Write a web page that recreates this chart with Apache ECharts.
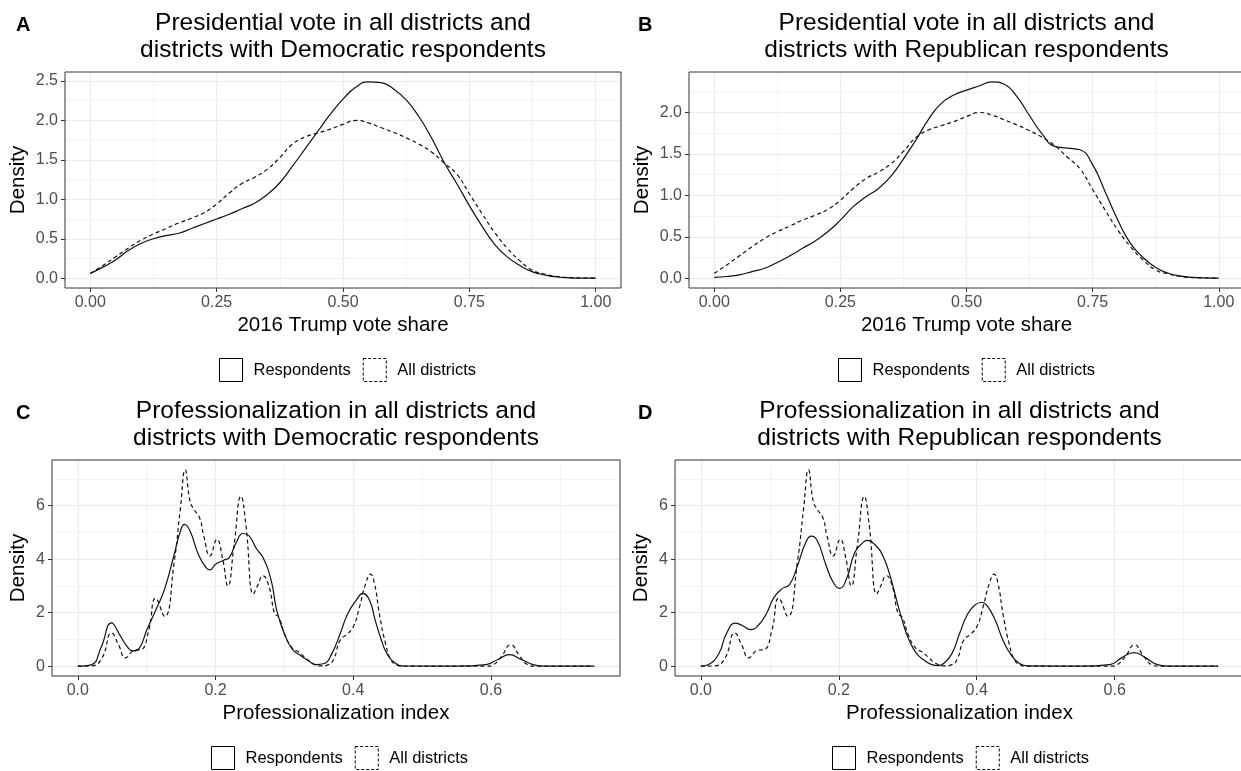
<!DOCTYPE html>
<html>
<head>
<meta charset="utf-8">
<script src="https://cdn.jsdelivr.net/npm/echarts@6/dist/echarts.min.js"></script>
<style>
  html, body { margin: 0; padding: 0; background: #ffffff; }
  #chart { width: 1241px; height: 771px; }
</style>
</head>
<body>
<div id="chart"></div>
<script>
// ---- Kernel density estimates (density vs. x) ----

// 2016 Trump vote share grid
const voteX = [0, 0.025, 0.05, 0.075, 0.1, 0.125, 0.15, 0.175, 0.2, 0.225,
               0.25, 0.275, 0.3, 0.325, 0.35, 0.375, 0.4, 0.425, 0.45, 0.475,
               0.5, 0.525, 0.55, 0.575, 0.6, 0.625, 0.65, 0.675, 0.7, 0.725,
               0.75, 0.775, 0.8, 0.825, 0.85, 0.875, 0.9, 0.925, 0.95, 0.975, 1];
// districts with Democratic respondents
const demRespVote = [0.06, 0.14, 0.23, 0.35, 0.44, 0.50, 0.54, 0.57, 0.63, 0.69,
                     0.75, 0.81, 0.88, 0.95, 1.06, 1.21, 1.42, 1.64, 1.86, 2.08,
                     2.27, 2.42, 2.49, 2.48, 2.40, 2.26, 2.05, 1.78, 1.47, 1.20,
                     0.92, 0.66, 0.43, 0.27, 0.16, 0.08, 0.04, 0.015, 0.005, 0.001, 0];
// all districts
const allDistVote = [0.06, 0.16, 0.27, 0.38, 0.48, 0.56, 0.63, 0.70, 0.76, 0.83,
                     0.94, 1.08, 1.20, 1.28, 1.38, 1.53, 1.70, 1.79, 1.84, 1.89,
                     1.95, 2.00, 1.97, 1.91, 1.85, 1.78, 1.70, 1.60, 1.46, 1.32,
                     1.07, 0.82, 0.58, 0.38, 0.22, 0.10, 0.05, 0.02, 0.007, 0.002, 0];
// districts with Republican respondents
const repRespVote = [0.01, 0.02, 0.04, 0.08, 0.12, 0.19, 0.27, 0.36, 0.45, 0.56,
                     0.70, 0.86, 0.98, 1.08, 1.23, 1.44, 1.67, 1.92, 2.11, 2.21,
                     2.27, 2.32, 2.37, 2.34, 2.19, 1.96, 1.74, 1.59, 1.57, 1.55,
                     1.37, 1.04, 0.70, 0.42, 0.25, 0.13, 0.06, 0.025, 0.01, 0.003, 0];

// Professionalization index, all districts
const profAllX = [0, 0.02, 0.035, 0.049, 0.06, 0.069, 0.083, 0.092, 0.103, 0.113,
                  0.126, 0.14, 0.149, 0.156, 0.163, 0.169, 0.177, 0.183, 0.192, 0.202,
                  0.21, 0.218, 0.227, 0.237, 0.244, 0.255, 0.26, 0.269, 0.278, 0.286,
                  0.292, 0.301, 0.312, 0.321, 0.329, 0.341, 0.352, 0.364, 0.372, 0.381,
                  0.392, 0.401, 0.409, 0.418, 0.425, 0.431, 0.438, 0.447, 0.455, 0.464,
                  0.472, 0.55, 0.595, 0.604, 0.615, 0.629, 0.641, 0.653, 0.664, 0.75];
const profAllY = [0, 0.01, 0.3, 1.24, 0.75, 0.31, 0.6, 0.62, 1.34, 2.54,
                  1.86, 3.9, 5.9, 7.34, 6.16, 5.85, 5.54, 4.86, 4.12, 4.74,
                  4.06, 3.0, 4.55, 6.35, 5.3, 2.7, 2.95, 3.38, 2.95, 1.96,
                  1.83, 1.15, 0.66, 0.53, 0.35, 0.1, 0.01, 0.06, 0.28, 0.97,
                  1.21, 1.52, 2.2, 3.07, 3.44, 3.07, 1.96, 0.84, 0.22, 0.04,
                  0, 0, 0, 0.06, 0.35, 0.8, 0.41, 0.06, 0, 0];
// Professionalization, districts with Democratic respondents
const profDemX = [0, 0.02, 0.034, 0.049, 0.06, 0.072, 0.08, 0.089, 0.1, 0.115,
                  0.126, 0.14, 0.149, 0.155, 0.163, 0.175, 0.186, 0.192, 0.2, 0.212,
                  0.22, 0.23, 0.24, 0.249, 0.26, 0.269, 0.281, 0.289, 0.301, 0.312,
                  0.323, 0.335, 0.346, 0.358, 0.369, 0.381, 0.392, 0.404, 0.414, 0.424,
                  0.432, 0.441, 0.449, 0.461, 0.472, 0.55, 0.593, 0.61, 0.627, 0.644,
                  0.661, 0.678, 0.75];
const profDemY = [0, 0.06, 0.72, 1.62, 1.21, 0.72, 0.57, 0.66, 1.34, 2.2,
                  2.88, 4.18, 5.05, 5.3, 5.05, 4.18, 3.69, 3.6, 3.81, 3.96,
                  4.06, 4.62, 4.96, 4.86, 4.37, 4.06, 3.19, 2.08, 1.15, 0.62,
                  0.41, 0.2, 0.06, 0.1, 0.47, 1.21, 1.96, 2.45, 2.72, 2.45,
                  1.71, 0.97, 0.47, 0.12, 0.01, 0, 0.06, 0.25, 0.43, 0.25,
                  0.06, 0, 0];
// Professionalization, districts with Republican respondents
const profRepX = [0, 0.011, 0.026, 0.037, 0.05, 0.06, 0.072, 0.083, 0.095, 0.106,
                  0.117, 0.129, 0.14, 0.152, 0.16, 0.169, 0.181, 0.192, 0.201, 0.212,
                  0.223, 0.235, 0.241, 0.252, 0.264, 0.275, 0.284, 0.292, 0.301, 0.312,
                  0.324, 0.335, 0.344, 0.352, 0.364, 0.375, 0.387, 0.398, 0.407, 0.415,
                  0.427, 0.438, 0.45, 0.461, 0.473, 0.55, 0.593, 0.61, 0.628, 0.645,
                  0.662, 0.679, 0.75];
const profRepY = [0, 0.06, 0.47, 1.21, 1.61, 1.52, 1.37, 1.52, 1.96, 2.57,
                  2.88, 3.07, 3.75, 4.62, 4.86, 4.68, 3.81, 3.13, 2.91, 3.32,
                  4.24, 4.62, 4.7, 4.55, 4.12, 3.32, 2.45, 1.71, 1.03, 0.5,
                  0.22, 0.06, 0.02, 0.1, 0.47, 1.21, 1.96, 2.3, 2.39, 2.26,
                  1.71, 0.97, 0.41, 0.12, 0.01, 0, 0.06, 0.31, 0.51, 0.31,
                  0.06, 0, 0];

// ---- Tick labels ----
const voteTicks = [0, 0.25, 0.5, 0.75, 1];
const voteDensityTicksDem = [0, 0.5, 1, 1.5, 2, 2.5];
const voteDensityTicksRep = [0, 0.5, 1, 1.5, 2];
const profTicks = [0, 0.2, 0.4, 0.6];
const profDensityTicks = [0, 2, 4, 6];

// ---- Text ----
const panelTags = ['A', 'B', 'C', 'D'];
const panelTitles = [
  'Presidential vote in all districts and\ndistricts with Democratic respondents',
  'Presidential vote in all districts and\ndistricts with Republican respondents',
  'Professionalization in all districts and\ndistricts with Democratic respondents',
  'Professionalization in all districts and\ndistricts with Republican respondents'
];
const xTitles = ['2016 Trump vote share', '2016 Trump vote share',
                 'Professionalization index', 'Professionalization index'];
const yTitle = 'Density';
const seriesNames = ['Respondents', 'All districts'];

// ---- Layout ----
const FONT = "'Liberation Sans', Arial, Helvetica, sans-serif";
const ROW2 = 388;
const layout = [
  { left: 65,  top: 72,        width: 556, yNameGap: 36, legendLeft: 219 },
  { left: 689, top: 72,        width: 555, yNameGap: 36, legendLeft: 838 },
  { left: 52,  top: 72 + ROW2, width: 568, yNameGap: 23, legendLeft: 211 },
  { left: 675, top: 72 + ROW2, width: 569, yNameGap: 23, legendLeft: 832 }
];
const PANEL_H = 216;

function pairs(xs, ys) { return xs.map((x, i) => [x, ys[i]]); }
// ggplot-style 5% expansion of a continuous range
function expand(lo, hi) { const pad = (hi - lo) * 0.05; return [lo - pad, hi + pad]; }

const panels = [
  { xs: [voteX, voteX], ys: [demRespVote, allDistVote], xTicks: voteTicks, yTicks: voteDensityTicksDem, xStep: 0.25, yStep: 0.5, xDigits: 2, yDigits: 1 },
  { xs: [voteX, voteX], ys: [repRespVote, allDistVote], xTicks: voteTicks, yTicks: voteDensityTicksRep, xStep: 0.25, yStep: 0.5, xDigits: 2, yDigits: 1 },
  { xs: [profDemX, profAllX], ys: [profDemY, profAllY], xTicks: profTicks, yTicks: profDensityTicks, xStep: 0.2, yStep: 2, xDigits: 1, yDigits: 0 },
  { xs: [profRepX, profAllX], ys: [profRepY, profAllY], xTicks: profTicks, yTicks: profDensityTicks, xStep: 0.2, yStep: 2, xDigits: 1, yDigits: 0 }
];

const grids = [], xAxes = [], yAxes = [], series = [], legends = [], graphics = [];

const gridLine = { color: '#ebebeb', width: 1.1 };
const minorGridLine = { color: '#ebebeb', width: 0.6 };
const tickStyle = { color: '#333333', width: 1 };
const tickLabel = { fontFamily: FONT, fontSize: 16, color: '#4d4d4d' };

panels.forEach((p, i) => {
  const L = layout[i];
  grids.push({
    left: L.left, top: L.top, width: L.width, height: PANEL_H,
    containLabel: false, outerBoundsMode: 'none',
    show: true, borderColor: '#333333', borderWidth: 1, backgroundColor: 'transparent', z: 1
  });

  const allX = p.xs[0].concat(p.xs[1]);
  const allY = p.ys[0].concat(p.ys[1]);
  const xr = expand(Math.min(...allX), Math.max(...allX));
  const yr = expand(0, Math.max(...allY));

  xAxes.push({
    gridIndex: i, type: 'value', position: 'bottom', min: xr[0], max: xr[1],
    minInterval: p.xStep, maxInterval: p.xStep,
    name: xTitles[i], nameLocation: 'middle', nameGap: 27, nameMoveOverlap: false,
    nameTextStyle: { fontFamily: FONT, fontSize: 20.5, color: '#000000' },
    axisLine: { show: false, onZero: false },
    axisTick: { show: true, length: 4, lineStyle: tickStyle, customValues: p.xTicks },
    axisLabel: Object.assign({ margin: 7, customValues: p.xTicks,
      formatter: v => Number(v).toFixed(p.xDigits) }, tickLabel),
    splitLine: { show: true, lineStyle: gridLine },
    minorTick: { show: false, splitNumber: 2 },
    minorSplitLine: { show: true, lineStyle: minorGridLine }
  });
  yAxes.push({
    gridIndex: i, type: 'value', position: 'left', min: yr[0], max: yr[1],
    minInterval: p.yStep, maxInterval: p.yStep,
    name: yTitle, nameLocation: 'middle', nameGap: L.yNameGap, nameRotate: 90, nameMoveOverlap: false,
    nameTextStyle: { fontFamily: FONT, fontSize: 20.5, color: '#000000' },
    axisLine: { show: false, onZero: false },
    axisTick: { show: true, length: 4, lineStyle: tickStyle, customValues: p.yTicks },
    axisLabel: Object.assign({ margin: 7, customValues: p.yTicks,
      formatter: v => Number(v).toFixed(p.yDigits) }, tickLabel),
    splitLine: { show: true, lineStyle: gridLine },
    minorTick: { show: false, splitNumber: 2 },
    minorSplitLine: { show: true, lineStyle: minorGridLine }
  });

  seriesNames.forEach((name, k) => {
    series.push({
      type: 'line', name: name, xAxisIndex: i, yAxisIndex: i,
      data: pairs(p.xs[k], p.ys[k]),
      symbol: 'none', showSymbol: false, smooth: 0.5,
      lineStyle: { color: '#111111', width: 1.2, type: k === 0 ? 'solid' : [4, 3] },
      itemStyle: { color: '#111111' },
      silent: true, z: 3
    });
  });

  legends.push({
    left: L.legendLeft, top: L.top + 286, padding: 0,
    itemWidth: 23, itemHeight: 23, itemGap: 12, selectedMode: false,
    textStyle: { fontFamily: FONT, fontSize: 16.5, color: '#000000', padding: [0, 0, 0, 6] },
    data: [
      { name: seriesNames[0], icon: 'rect',
        itemStyle: { color: '#ffffff', borderColor: '#000000', borderWidth: 1, borderType: 'solid' } },
      { name: seriesNames[1], icon: 'rect',
        itemStyle: { color: '#ffffff', borderColor: '#000000', borderWidth: 1, borderType: [3, 2] } }
    ]
  });

  // panel title, centred over the plotting panel
  graphics.push({
    type: 'text', x: L.left + L.width / 2, y: L.top - 35.5,
    style: { text: panelTitles[i], align: 'center', verticalAlign: 'middle',
             fontFamily: FONT, fontSize: 24.5, lineHeight: 27, fill: '#000000' }
  });
  // panel tag letter
  graphics.push({
    type: 'text', x: (i % 2 === 0 ? 16 : 638), y: L.top - 47,
    style: { text: panelTags[i], align: 'left', verticalAlign: 'middle',
             fontFamily: FONT, fontSize: 20, fontWeight: 'bold', fill: '#000000' }
  });
});

const chart = echarts.init(document.getElementById('chart'), null, { renderer: 'canvas' });
chart.setOption({
  backgroundColor: '#ffffff',
  animation: false,
  grid: grids,
  xAxis: xAxes,
  yAxis: yAxes,
  series: series,
  legend: legends,
  graphic: graphics
});
</script>
</body>
</html>
